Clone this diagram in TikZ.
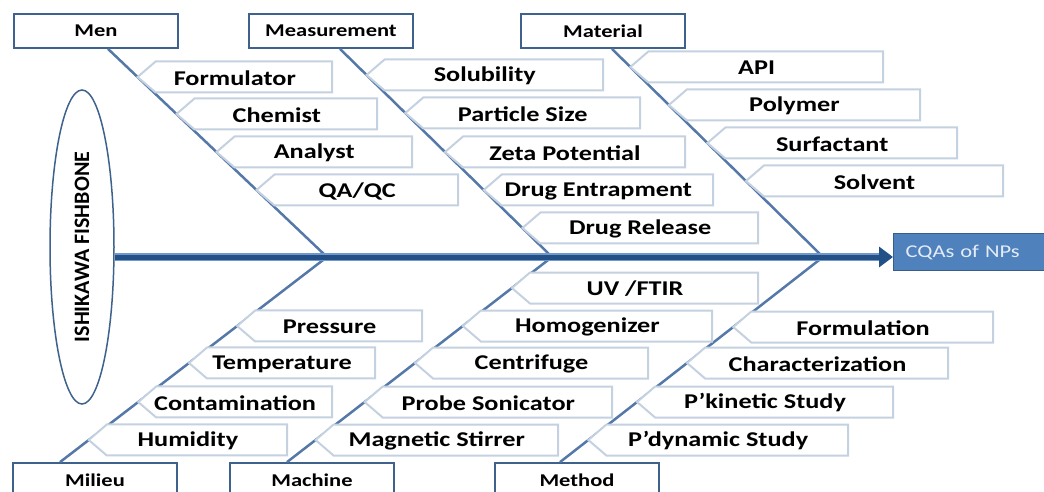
\documentclass[tikz,border=0pt]{standalone}
\usepackage{graphicx}
\usepackage{fontspec}
\setmainfont{Carlito}[FakeStretch=1.25]
\newfontfamily\upfont{Carlito}
\usetikzlibrary{calc,shapes.geometric,arrows.meta}

\definecolor{bonecol}{RGB}{84,120,168}
\definecolor{catcol}{RGB}{62,98,140}
\definecolor{twigcol}{RGB}{196,209,224}
\definecolor{spinecol}{RGB}{36,80,136}
\definecolor{spinelight}{RGB}{112,152,202}
\definecolor{cqafill}{RGB}{79,129,189}
\definecolor{cqaline}{RGB}{56,93,138}
\definecolor{cqatext}{RGB}{228,236,246}

\tikzset{
  cat/.style={draw=catcol, line width=1.8pt, fill=white, minimum width=164pt,
    minimum height=34pt, inner sep=0pt, font=\fontsize{18}{18}\selectfont\bfseries},
  bone/.style={draw=bonecol, line width=2.5pt},
  twigline/.style={draw=twigcol, line width=2pt, fill=white},
  twigtext/.style={inner sep=0pt, font=\fontsize{21}{21}\selectfont\bfseries},
  spine/.style={draw=spinecol, line width=5pt, -{Triangle[length=14pt,width=20pt]}},
  spineback/.style={draw=spinelight, line width=8.5pt},
  cqa/.style={fill=cqafill, draw=cqaline, line width=1.2pt, text=cqatext,
    text width=150pt, align=left, inner xsep=12pt, minimum height=37pt,
    font=\fontsize{18}{18}\selectfont}
}

% twig: name, bone start, bone end, row y, right edge x, text
\newcommand\twig[6]{%
  \coordinate (#1-tip) at (intersection of #2--#3 and 0,#4--1044,#4);
  \draw[twigline] let \p1=(#1-tip) in
    (\p1) -- (\x1+18pt,\y1+15.5pt) -- (#5pt,\y1+15.5pt) -- (#5pt,\y1-15.5pt)
    -- (\x1+18pt,\y1-15.5pt) -- cycle;
  \node[twigtext] (#1) at ($(#1-tip)!0.5!(#5,#4)+(0,1)$) {#6};
}

\begin{document}
\begin{tikzpicture}[x=1pt,y=-1pt]
  \useasboundingbox (0,0) rectangle (1044,492);
  \clip (0,0) rectangle (1044,492);
  % head and tail
  \node[ellipse, draw=catcol, line width=1.5pt, minimum width=64pt, minimum height=314pt,
    inner sep=0pt] (ish) at (82,247)
    {\rotatebox{90}{\upfont\fontsize{22}{22}\selectfont\bfseries ISHIKAWA FISHBONE}};
  \node[cqa, anchor=north west] (cqa) at (893,233) {CQAs of NPs};
  % junctions on the spine
  \coordinate (j1) at (327,257);
  \coordinate (j2) at (552,257);
  \coordinate (j3) at (823,257);
  % category boxes
  \node[cat] (men) at (96,31) {Men};
  \node[cat] (meas) at (331,31) {Measurement};
  \node[cat] (mat) at (603,31) {Material};
  \node[cat] (mil) at (95,480) {Milieu};
  \node[cat] (mac) at (312,480) {Machine};
  \node[cat] (met) at (577,480) {Method};
  \coordinate (menA) at ([xshift=12pt]men.south);
  \coordinate (measA) at ([xshift=9pt]meas.south);
  \coordinate (matA) at ([xshift=9pt]mat.south);
  \coordinate (milA) at ([xshift=-35pt]mil.north);
  \coordinate (macA) at ([xshift=-25pt]mac.north);
  \coordinate (metA) at ([xshift=-17pt]met.north);
  % bones
  \draw[bone] (menA) -- (j1);
  \draw[bone] (measA) -- (j2);
  \draw[bone] (matA) -- (j3);
  \draw[bone] (milA) -- (j1);
  \draw[bone] (macA) -- (j2);
  \draw[bone] (metA) -- (j3);
  % spine
  \coordinate (s0) at (ish.east |- j1);
  \draw[spineback] (s0) -- ([xshift=-12pt]cqa.west |- j1);
  \draw[spine] (s0) -- (cqa.west |- j1);
  % men
  \twig{formulator}{menA}{j1}{77}{332}{Formulator}
  \twig{chemist}{menA}{j1}{114}{377}{Chemist}
  \twig{analyst}{menA}{j1}{152}{412}{Analyst}
  \twig{qaqc}{menA}{j1}{190}{458}{QA/QC}
  % measurement
  \twig{solubility}{measA}{j2}{75}{603}{Solubility}
  \twig{psize}{measA}{j2}{113}{640}{Particle Size}
  \twig{zeta}{measA}{j2}{152}{685}{Zeta Potential}
  \twig{entrap}{measA}{j2}{190}{713}{Drug Entrapment}
  \twig{release}{measA}{j2}{228}{758}{Drug Release}
  % material
  \twig{api}{matA}{j3}{67}{883}{API}
  \twig{polymer}{matA}{j3}{105}{920}{Polymer}
  \twig{surfactant}{matA}{j3}{143}{957}{Surfactant}
  \twig{solvent}{matA}{j3}{181}{1003}{Solvent}
  % milieu
  \twig{pressure}{milA}{j1}{326}{422}{Pressure}
  \twig{temp}{milA}{j1}{363}{375}{Temperature}
  \twig{contam}{milA}{j1}{402}{332}{Contamination}
  \twig{humidity}{milA}{j1}{440}{287}{Humidity}
  % machine
  \twig{uvftir}{macA}{j2}{288}{758}{UV /FTIR}
  \twig{homog}{macA}{j2}{326}{712}{Homogenizer}
  \twig{centri}{macA}{j2}{363}{648}{Centrifuge}
  \twig{sonic}{macA}{j2}{402}{612}{Probe Sonicator}
  \twig{stirrer}{macA}{j2}{440}{558}{Magnetic Stirrer}
  % method
  \twig{formul}{metA}{j3}{327}{993}{Formulation}
  \twig{charact}{metA}{j3}{363}{948}{Characterization}
  \twig{pkin}{metA}{j3}{402}{893}{P’kinetic Study}
  \twig{pdyn}{metA}{j3}{440}{848}{P’dynamic Study}
\end{tikzpicture}
\end{document}
